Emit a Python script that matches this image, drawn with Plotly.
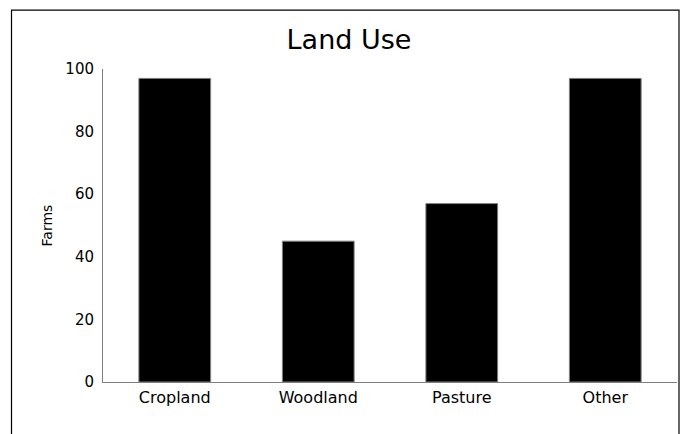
import plotly.graph_objects as go

categories = ["Cropland", "Woodland", "Pasture", "Other"]
farms = [97, 45, 57, 97]
y_ticks = [0, 20, 40, 60, 80, 100]

# page body has an 8px default margin; size the figure so it fits the window
OFF = 8
W, H = 680, 426
L, R, T, B = 103 - OFF, 11, 68.5 - OFF, 51.7
pw, ph = W - L - R, H - T - B

fig = go.Figure(go.Bar(
    x=categories, y=farms, width=0.5,
    marker=dict(color="black", line=dict(color="#808080", width=1)),
))

def px_to_paper_x(px):
    return (px - OFF - L) / pw

def px_to_paper_y(py):
    return (H - B - (py - OFF)) / ph

fig.add_shape(type="rect", xref="paper", yref="paper",
              x0=px_to_paper_x(11.5), x1=px_to_paper_x(679),
              y0=px_to_paper_y(480), y1=px_to_paper_y(9.5),
              line=dict(color="black", width=1.2), fillcolor="rgba(0,0,0,0)",
              layer="above")

fig.update_layout(
    width=W, height=H,
    margin=dict(l=L, r=R, t=T, b=B, pad=0),
    paper_bgcolor="white", plot_bgcolor="white",
    font=dict(family="DejaVu Sans", color="black"),
    showlegend=False,
    title=dict(text="Land Use", x=(349 - OFF) / W, xanchor="center",
               y=1 - (40 - OFF) / H, yanchor="middle", yref="container",
               font=dict(size=27, color="black", family="DejaVu Sans")),
    xaxis=dict(showline=True, linecolor="#808080", linewidth=1,
               showgrid=False, zeroline=False, ticks="",
               tickfont=dict(size=16, color="black"), ticklabelstandoff=1),
    yaxis=dict(range=[0, 100], tickvals=y_ticks, showline=True,
               linecolor="#808080", linewidth=1, showgrid=False,
               zeroline=False, ticks="", tickfont=dict(size=15, color="black"),
               ticklabelstandoff=5,
               title=dict(text="Farms", font=dict(size=14, color="black"),
                          standoff=9)),
    bargap=0.5,
)

fig.write_html("out.html")
